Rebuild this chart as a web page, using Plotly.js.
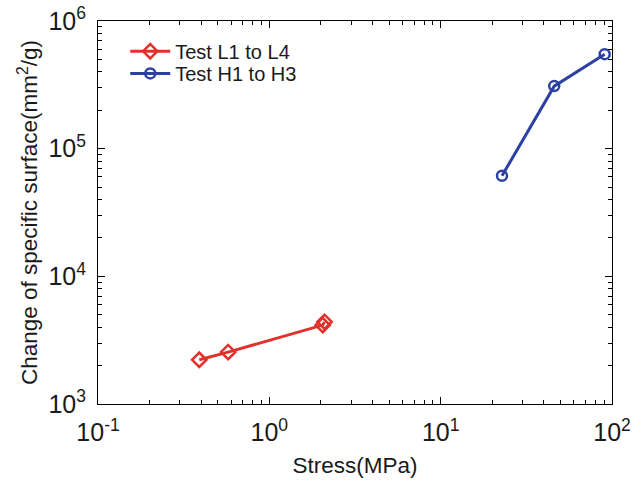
<!DOCTYPE html>
<html>
<head>
<meta charset="utf-8">
<script src="https://cdn.plot.ly/plotly-3.0.1.min.js"></script>
<style>body{margin:0;background:#fff;}#chart{width:640px;height:482px;}</style>
</head>
<body>
<div id="chart"></div>
<script>
// Data
const seriesNames = ["Test L1 to L4", "Test H1 to H3"];
const stressL = [0.39, 0.575, 2.05, 2.1];
const surfaceL = [2220, 2550, 4150, 4400];
const stressH = [22.8, 46, 90.6];
const surfaceH = [61400, 309000, 550000];
const xTickVals = [0.1, 1, 10, 100];
const xTickText = ["10<sup>-1</sup>", "10<sup>0</sup>", "10<sup>1</sup>", "10<sup>2</sup>"];
const yTickVals = [1000, 10000, 100000, 1000000];
const yTickText = ["10<sup>3</sup>", "10<sup>4</sup>", "10<sup>5</sup>", "10<sup>6</sup>"];

const red = "#e2312a";
const blue = "#2d41a3";
const font = "Liberation Sans, Arial, Helvetica, sans-serif";
const txt = "#1a1a1a";

const traces = [
  {
    x: stressL, y: surfaceL, name: seriesNames[0], type: "scatter", mode: "lines+markers",
    legend: "legend",
    line: {color: red, width: 3},
    marker: {symbol: "diamond-open", size: 11, color: red, line: {color: red, width: 2.5}}
  },
  {
    x: stressH, y: surfaceH, name: seriesNames[1], type: "scatter", mode: "lines+markers",
    legend: "legend2",
    line: {color: blue, width: 3},
    marker: {symbol: "circle-open", size: 10, color: blue, line: {color: blue, width: 2.5}}
  }
];

function minorVals(lo, hi) {
  const v = [];
  for (let d = lo; d < hi; d++) for (let k = 2; k <= 9; k++) v.push(k * Math.pow(10, d));
  return v;
}

const axisCommon = {
  type: "log",
  showline: true, linecolor: "#000", linewidth: 1, mirror: "ticks",
  ticks: "inside", ticklen: 7, tickcolor: "#000", tickwidth: 1,
  showgrid: false, zeroline: false,
  tickfont: {family: font, size: 25, color: txt},
  tickmode: "array", ticklabelstandoff: 6
};

const legendCommon = {
  xanchor: "left", yanchor: "top",
  bgcolor: "rgba(255,255,255,0)", borderwidth: 0,
  font: {family: font, size: 20, color: txt},
  itemwidth: 40
};

const layout = {
  width: 640, height: 482,
  margin: {l: 98, r: 28, t: 21, b: 78},
  paper_bgcolor: "#fff", plot_bgcolor: "#fff",
  showlegend: true,
  legend: Object.assign({}, legendCommon, {x: 0.053, y: 0.972}),
  legend2: Object.assign({}, legendCommon, {x: 0.053, y: 0.914}),
  xaxis: Object.assign({}, axisCommon, {
    range: [-1, 2],
    tickvals: xTickVals, ticktext: xTickText,
    minor: {tickmode: "array", tickvals: minorVals(-1, 2), ticks: "inside", ticklen: 4, tickcolor: "#000", showgrid: false},
    title: {text: "Stress(MPa)", font: {family: font, size: 22.5, color: txt}, standoff: 12}
  }),
  yaxis: Object.assign({}, axisCommon, {
    range: [3, 6],
    tickvals: yTickVals, ticktext: yTickText,
    minor: {tickmode: "array", tickvals: minorVals(3, 6), ticks: "inside", ticklen: 4, tickcolor: "#000", showgrid: false},
    title: {text: "Change of specific surface(mm<sup>2</sup>/g)", font: {family: font, size: 22.5, color: txt}, standoff: 4}
  })
};

Plotly.newPlot("chart", traces, layout, {displayModeBar: false, staticPlot: true});
</script>
</body>
</html>
